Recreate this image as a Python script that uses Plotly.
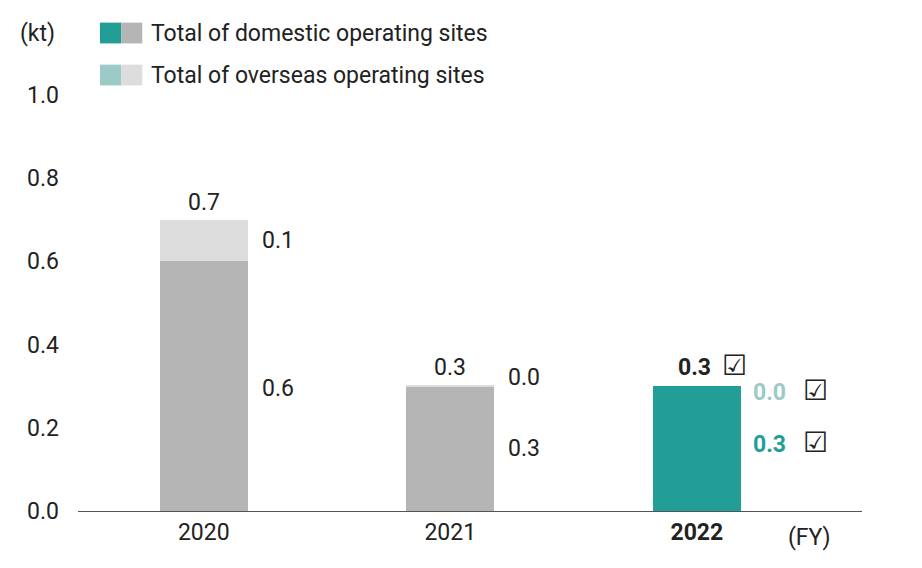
import plotly.graph_objects as go

years = ["2020", "2021", "2022"]
domestic = [0.6, 0.3, 0.3]
overseas = [0.1, 0.003, 0.0]
total_lbl = ["0.7", "0.3", "0.3"]
dom_lbl = ["0.6", "0.3", "0.3"]
ovs_lbl = ["0.1", "0.0", "0.0"]

xs = [0, 1, 2]
dom_col = ["#b4b5b4", "#b4b5b4", "#229e97"]
ovs_col = ["#dcdddc", "#dcdddc", "#9ccac6"]
W = 0.357
F = "Roboto, Arial, sans-serif"
FS = 23
CHK = "<span style='font-size:28px'>☑</span>"

fig = go.Figure()
fig.add_bar(x=xs, y=domestic, width=W, marker_color=dom_col, marker_line_width=0, showlegend=False)
fig.add_bar(x=xs, y=overseas, width=W, marker_color=ovs_col, marker_line_width=0, showlegend=False)

ann = []
for i in xs:
    tot = domestic[i] + overseas[i]
    last = i == 2
    ann.append(dict(x=i, y=tot, text=("<b>%s</b>  %s" % (total_lbl[i], CHK)) if last else total_lbl[i],
                    xshift=16 if last else 0,
                    yshift=2, yanchor="bottom", showarrow=False,
                    font=dict(size=FS, color="#222", family=F)))
    if i == 0:
        ya, yb = 0.295, 0.65
    elif i == 1:
        ya, yb = 0.15, 0.32
    else:
        ya, yb = 0.165, 0.29
    if last:
        ann.append(dict(x=i + W / 2, y=yb, text="<b><span style='color:#9ccac6'>0.0</span></b>   " + CHK, xanchor="left", xshift=10,
                        showarrow=False, font=dict(size=FS, color="#222", family=F)))
        ann.append(dict(x=i + W / 2, y=ya, text="<b><span style='color:#229e97'>0.3</span></b>   " + CHK, xanchor="left", xshift=10,
                        showarrow=False, font=dict(size=FS, color="#222", family=F)))
    else:
        ann.append(dict(x=i + W / 2, y=yb, text=ovs_lbl[i], xanchor="left", xshift=12,
                        showarrow=False, font=dict(size=FS, color="#222", family=F)))
        ann.append(dict(x=i + W / 2, y=ya, text=dom_lbl[i], xanchor="left", xshift=12,
                        showarrow=False, font=dict(size=FS, color="#222", family=F)))

ann += [
    dict(xref="paper", yref="paper", x=-0.052, y=1.149, text="(kt)", showarrow=False, xanchor="center", yanchor="middle",
         font=dict(size=FS, color="#222", family=F)),
    dict(xref="paper", yref="paper", x=0.963, y=-0.0625, text="(FY)", showarrow=False, xanchor="right", yanchor="middle",
         font=dict(size=FS, color="#222", family=F)),
    dict(xref="paper", yref="paper", x=0.09, y=1.149, text="Total of domestic operating sites", showarrow=False,
         xanchor="left", yanchor="middle", font=dict(size=FS, color="#222", family=F)),
    dict(xref="paper", yref="paper", x=0.09, y=1.048, text="Total of overseas operating sites", showarrow=False,
         xanchor="left", yanchor="middle", font=dict(size=FS, color="#222", family=F)),
]
shapes = []
for yy, c1, c2 in [(1.149, "#229e97", "#b4b5b4"), (1.048, "#9ccac6", "#dcdddc")]:
    shapes.append(dict(type="rect", xref="paper", yref="paper", x0=0.028, x1=0.055, y0=yy - 0.025, y1=yy + 0.025,
                       fillcolor=c1, line_width=0))
    shapes.append(dict(type="rect", xref="paper", yref="paper", x0=0.055, x1=0.082, y0=yy - 0.025, y1=yy + 0.025,
                       fillcolor=c2, line_width=0))

fig.update_layout(
    barmode="stack", width=922, height=568, margin=dict(l=70, r=68, t=87, b=65),
    plot_bgcolor="white", paper_bgcolor="white", annotations=ann, shapes=shapes,
    xaxis=dict(range=[-0.51, 2.67], tickvals=xs,
               ticktext=[years[0], years[1], "<b>2022</b>"], showline=True, linecolor="#555", linewidth=1,
               ticks="", showgrid=False, zeroline=False, tickfont=dict(size=FS, color="#222", family=F)),
    yaxis=dict(range=[0, 1.0], tickvals=[0, 0.2, 0.4, 0.6, 0.8, 1.0], tickformat=".1f", showgrid=False,
               zeroline=False, showline=False, ticks="", ticklabelstandoff=18,
               tickfont=dict(size=FS, color="#222", family=F)),
)
fig.write_html("out.html")
